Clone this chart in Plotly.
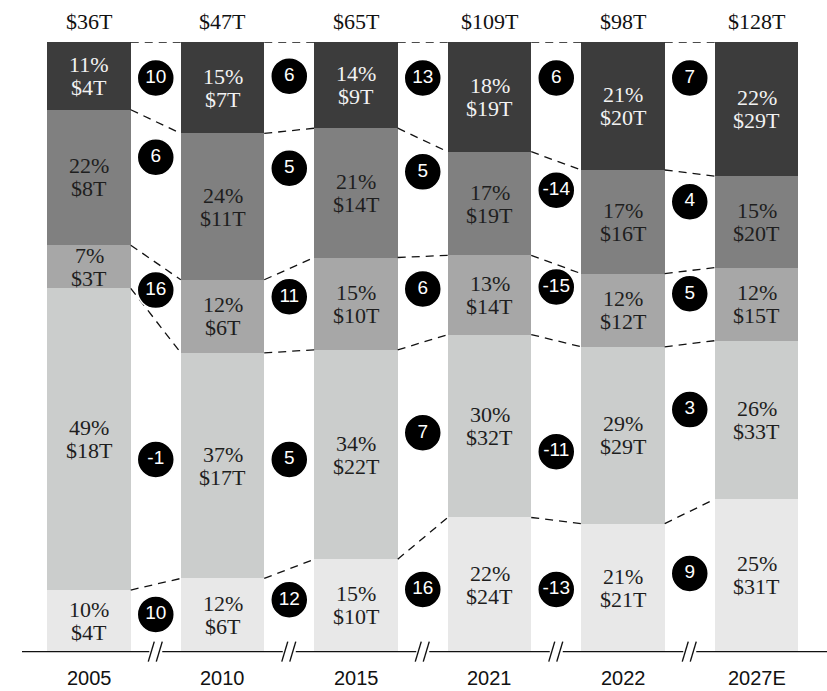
import numpy as np
import plotly.graph_objects as go

# ---------------- data ----------------
years = ["2005", "2010", "2015", "2021", "2022", "2027E"]
totals = ["$36T", "$47T", "$65T", "$109T", "$98T", "$128T"]

# segments listed bottom -> top
seg1_pct = [10, 12, 15, 22, 21, 25]
seg1_val = [4, 6, 10, 24, 21, 31]
seg2_pct = [49, 37, 34, 30, 29, 26]
seg2_val = [18, 17, 22, 32, 29, 33]
seg3_pct = [7, 12, 15, 13, 12, 12]
seg3_val = [3, 6, 10, 14, 12, 15]
seg4_pct = [22, 24, 21, 17, 17, 15]
seg4_val = [8, 11, 14, 19, 16, 20]
seg5_pct = [11, 15, 14, 18, 21, 22]
seg5_val = [4, 7, 9, 19, 20, 29]

# growth figures in the gaps (one list per gap, bottom -> top)
gap_growth = [
    [10, -1, 16, 6, 10],
    [12, 5, 11, 5, 6],
    [16, 7, 6, 5, 13],
    [-13, -11, -15, -14, 6],
    [9, 3, 5, 4, 7],
]

# ---------------- layout helpers (positions / styles) ----------------
circle_y = [  # vertical placement of growth badges, % of axis, bottom -> top
    [6.1, 31.5, 59.3, 81.1, 94.1],
    [8.5, 31.5, 58.2, 79.3, 94.4],
    [10.2, 35.9, 59.5, 78.7, 94.1],
    [10.2, 32.8, 59.8, 75.7, 94.1],
    [12.8, 39.7, 58.7, 73.8, 94.1],
]
colors = ["#e8e8e8", "#cbcdcc", "#a7a7a7", "#808080", "#3c3c3c"]
text_colors = ["#1e1e1e", "#1e1e1e", "#1e1e1e", "#1e1e1e", "#f2f2f2"]
BAR_W = 0.625
SERIF = "Liberation Serif"
SANS = "Liberation Sans"
LBL_SIZE = 22
LINE_GAP = 11.5  # half distance between the two label lines, px

pcts = np.array([seg1_pct, seg2_pct, seg3_pct, seg4_pct, seg5_pct], dtype=float)
vals = [seg1_val, seg2_val, seg3_val, seg4_val, seg5_val]
shares = pcts / pcts.sum(axis=0) * 100.0
cum = np.cumsum(shares, axis=0)
bottoms = cum - shares
xs = np.arange(len(years))

fig = go.Figure()

# stacked bars
for k in range(5):
    fig.add_trace(go.Bar(
        x=xs, y=shares[k], width=BAR_W,
        marker=dict(color=colors[k], line=dict(width=0)),
        hoverinfo="skip", showlegend=False,
    ))

# dashed connectors between segment boundaries
lx, ly = [], []
half = BAR_W / 2
for k in range(5):
    for i in range(len(years) - 1):
        lx += [xs[i] + half, xs[i + 1] - half, None]
        ly += [cum[k][i], cum[k][i + 1], None]
fig.add_trace(go.Scatter(
    x=lx, y=ly, mode="lines",
    line=dict(color="#111111", width=1.3, dash="8px,6px"),
    hoverinfo="skip", showlegend=False, cliponaxis=False,
))

# segment labels (two lines each)
for k in range(5):
    mids = bottoms[k] + shares[k] / 2
    for i in range(len(years)):
        for txt, shift in ((f"{int(pcts[k][i])}%", LINE_GAP), (f"${vals[k][i]}T", -LINE_GAP)):
            fig.add_annotation(x=xs[i], y=mids[i], text=txt, showarrow=False,
                               yanchor="middle", yshift=shift,
                               font=dict(family=SERIF, size=LBL_SIZE, color=text_colors[k]))

# growth badges
bx, by, bt = [], [], []
for g in range(len(gap_growth)):
    for k in range(5):
        bx.append(g + 0.5)
        by.append(circle_y[g][k])
        bt.append(str(gap_growth[g][k]))
fig.add_trace(go.Scatter(
    x=bx, y=by, mode="markers+text", text=bt,
    marker=dict(size=37, color="#000000", line=dict(color="#ffffff", width=1.5)),
    textfont=dict(family=SANS, size=19, color="#ffffff"),
    textposition="middle center",
    hoverinfo="skip", showlegend=False, cliponaxis=False,
))

# totals above bars
for i, t in enumerate(totals):
    fig.add_annotation(x=xs[i], y=100, text=t, showarrow=False,
                       yanchor="middle", yshift=21,
                       font=dict(family=SERIF, size=LBL_SIZE, color="#111111"))
# year labels
for i, yr in enumerate(years):
    fig.add_annotation(x=xs[i], y=0, text=yr, showarrow=False,
                       yanchor="middle", yshift=-26.5,
                       font=dict(family="Liberation Sans", size=20, color="#111111"))

# baseline with break marks
YMIN = -2.2
XMIN, XMAX = -0.502, 5.528
px = 1 / 133.5
shapes = []
breaks = [g + 0.5 for g in range(len(years) - 1)]
starts = [XMIN] + [b + 6.5 * px for b in breaks]
ends = [b - 6.5 * px for b in breaks] + [XMAX]
for s, e in zip(starts, ends):
    shapes.append(dict(type="line", xref="x", yref="y", x0=s, x1=e, y0=0, y1=0,
                       line=dict(color="#111111", width=1.4)))
for b in breaks:
    for off in (-4.5, 3.5):
        shapes.append(dict(type="line", xref="x", yref="y",
                           xsizemode="pixel", ysizemode="pixel",
                           xanchor=b, yanchor=0,
                           x0=off - 3, x1=off + 3, y0=-10, y1=10,
                           line=dict(color="#111111", width=1.4)))

plot_h = 610 * (100 - YMIN) / 100
fig.update_layout(
    width=827, height=691,
    margin=dict(l=22, r=0, t=42, b=691 - 42 - plot_h),
    barmode="stack",
    bargap=0,
    paper_bgcolor="#ffffff", plot_bgcolor="#ffffff",
    shapes=shapes,
    xaxis=dict(range=[XMIN, XMAX], showgrid=False, zeroline=False,
               showticklabels=False, showline=False, fixedrange=True),
    yaxis=dict(range=[YMIN, 100], showgrid=False, zeroline=False,
               showticklabels=False, showline=False, fixedrange=True),
    showlegend=False,
)

fig.write_html("out.html")
